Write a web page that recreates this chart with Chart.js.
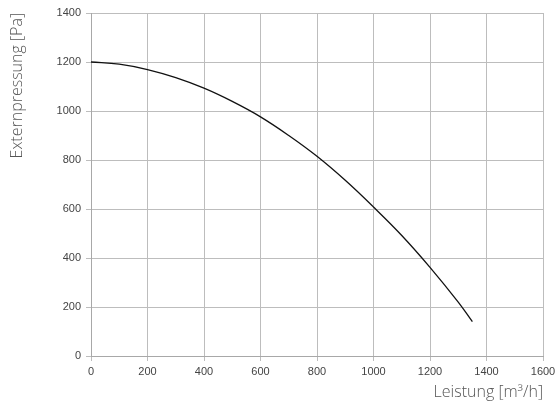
<!DOCTYPE html>
<html>
<head>
<meta charset="utf-8">
<script src="https://cdn.jsdelivr.net/npm/chart.js@4/dist/chart.umd.min.js"></script>
<style>
  html, body { margin: 0; padding: 0; background: #fff; }
  #wrap { width: 556px; height: 402px; }
</style>
</head>
<body>
<div id="wrap"><canvas id="grafico" width="556" height="402"></canvas></div>
<script>
// Kennlinie: Leistung [m3/h] -> Externpressung [Pa]
const leistung = [0, 100, 200, 300, 400, 500, 600, 700, 800, 900, 1000, 1100, 1200, 1300, 1350];
const pressung = [1200, 1191, 1169, 1136, 1093, 1039, 976, 900, 815, 717, 608, 492, 362, 220, 140];

const xTicks = [0, 200, 400, 600, 800, 1000, 1200, 1400, 1600];
const yTicks = [0, 200, 400, 600, 800, 1000, 1200, 1400];

const punkte = leistung.map((x, i) => ({ x: x, y: pressung[i] }));

const ctx = document.getElementById('grafico').getContext('2d');
const tickFont = { family: "'Liberation Sans', Arial, sans-serif", size: 11 };

new Chart(ctx, {
  type: 'scatter',
  data: {
    datasets: [{
      data: punkte,
      showLine: true,
      borderColor: '#111',
      borderWidth: 1.3,
      pointRadius: 0,
      tension: 0.4,
      fill: false
    }]
  },
  options: {
    responsive: false,
    animation: false,
    layout: { padding: { left: 0, right: 13, top: 13, bottom: 0 } },
    plugins: {
      legend: { display: false },
      tooltip: { enabled: false }
    },
    scales: {
      x: {
        type: 'linear',
        min: 0,
        max: 1600,
        afterBuildTicks: s => { s.ticks = xTicks.map(v => ({ value: v })); },
        afterFit: s => { s.height = 46; s.paddingRight = 0; s.paddingLeft = 0; },
        grid: { color: '#bdbdbd', tickLength: 5, lineWidth: 1 },
        border: { color: '#a8a8a8' },
        ticks: {
          color: '#444',
          padding: 4,
          maxRotation: 0,
          font: tickFont,
          callback: v => String(v)
        },
        title: {
          display: true,
          align: 'end',
          text: 'Leistung [m³/h]',
          color: '#555',
          padding: { top: 0, bottom: 0 },
          font: { family: "'Open Sans'", size: 16, weight: 300 }
        }
      },
      y: {
        min: 0,
        max: 1400,
        afterBuildTicks: s => { s.ticks = yTicks.map(v => ({ value: v })); },
        afterFit: s => { s.width = 91; s.paddingTop = 0; s.paddingBottom = 0; },
        grid: { color: '#bdbdbd', tickLength: 5, lineWidth: 1 },
        border: { color: '#a8a8a8' },
        ticks: {
          color: '#444',
          padding: 5,
          font: tickFont,
          callback: v => String(v)
        },
        title: {
          display: true,
          align: 'end',
          text: 'Externpressung [Pa]',
          color: '#555',
          padding: { top: 8, bottom: 0 },
          font: { family: "'Open Sans'", size: 16, weight: 300 }
        }
      }
    }
  }
});
</script>
</body>
</html>
